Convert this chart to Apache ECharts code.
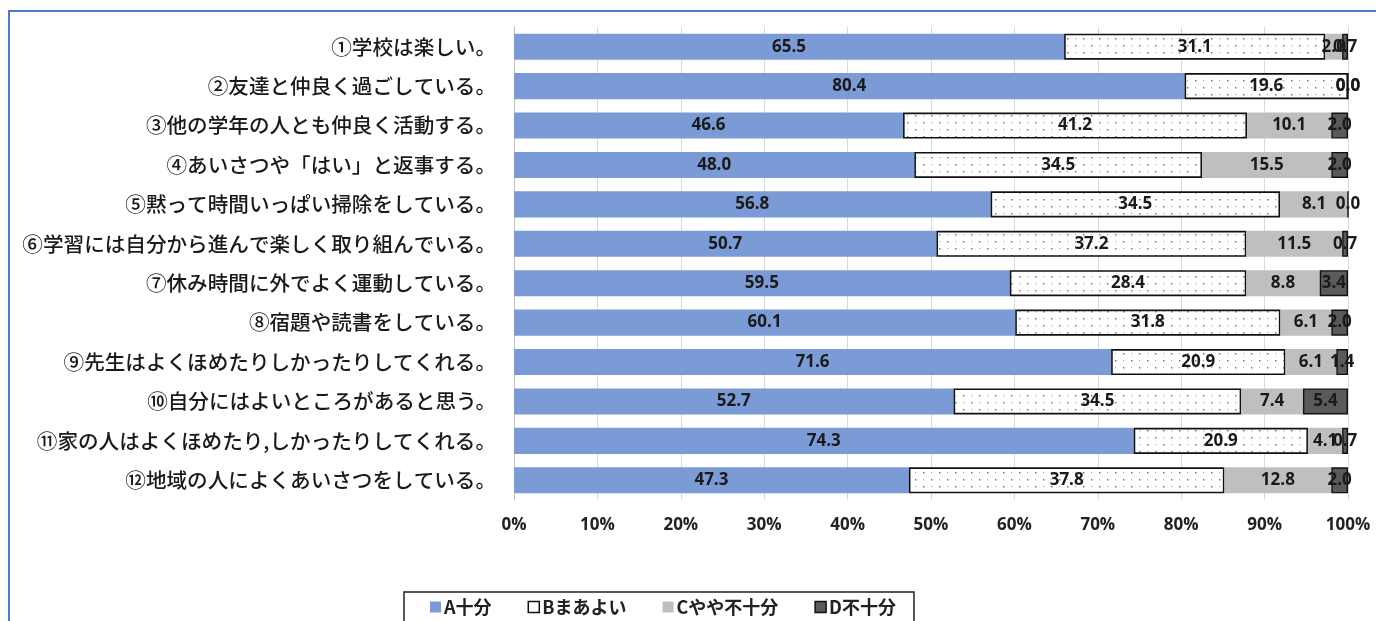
<!DOCTYPE html>
<html><head><meta charset="utf-8">
<script src="https://cdn.jsdelivr.net/npm/echarts@6/dist/echarts.min.js"></script>
<style>
html,body{margin:0;padding:0;background:#fff;overflow:hidden}
#frame{position:absolute;left:8px;top:10px;width:1400px;height:700px;border:2px solid #4a7ccf;box-sizing:border-box}
#c{position:absolute;left:0;top:0;width:1376px;height:621px}
</style></head>
<body><div id="frame"></div><div id="c"></div>
<script>
const categories = [
  '①学校は楽しい。',
  '②友達と仲良く過ごしている。',
  '③他の学年の人とも仲良く活動する。',
  '④あいさつや「はい」と返事する。',
  '⑤黙って時間いっぱい掃除をしている。',
  '⑥学習には自分から進んで楽しく取り組んでいる。',
  '⑦休み時間に外でよく運動している。',
  '⑧宿題や読書をしている。',
  '⑨先生はよくほめたりしかったりしてくれる。',
  '⑩自分にはよいところがあると思う。',
  '⑪家の人はよくほめたり,しかったりしてくれる。',
  '⑫地域の人によくあいさつをしている。'
];
const seriesNames = ['A十分', 'Bまあよい', 'Cやや不十分', 'D不十分'];
const valA = [65.5, 80.4, 46.6, 48.0, 56.8, 50.7, 59.5, 60.1, 71.6, 52.7, 74.3, 47.3];
const valB = [31.1, 19.6, 41.2, 34.5, 34.5, 37.2, 28.4, 31.8, 20.9, 34.5, 20.9, 37.8];
const valC = [2.0, 0.0, 10.1, 15.5, 8.1, 11.5, 8.8, 6.1, 6.1, 7.4, 4.1, 12.8];
const valD = [0.7, 0.0, 2.0, 2.0, 0.0, 0.7, 3.4, 2.0, 1.4, 5.4, 0.7, 2.0];
const xTicks = [0, 10, 20, 30, 40, 50, 60, 70, 80, 90, 100];

const raw = [valA, valB, valC, valD];
const sums = categories.map((_, i) => raw.reduce((s, a) => s + a[i], 0));
const norm = raw.map(a => a.map((v, i) => v / sums[i] * 100));

// dotted pattern
const pc = document.createElement('canvas');
pc.width = 16; pc.height = 14;
const pctx = pc.getContext('2d');
pctx.fillStyle = '#fff'; pctx.fillRect(0, 0, 16, 14);
pctx.fillStyle = '#777';
pctx.fillRect(3, 3, 1.5, 1.5);
pctx.fillRect(11, 10, 1.5, 1.5);
pctx.fillStyle = '#aaa';
pctx.fillRect(11, 3, 1.2, 1.2);
pctx.fillRect(3, 10, 1.2, 1.2);

const styles = [
  {color: '#7b9bd6'},
  {color: {image: pc, repeat: 'repeat'}, borderColor: '#111', borderWidth: 1.6},
  {color: '#bfbfbf'},
  {color: '#5a5a5a', borderColor: '#111', borderWidth: 1.4}
];

const chart = echarts.init(document.getElementById('c'), null, {renderer: 'canvas'});
chart.setOption({
  animation: false,
  grid: {left: 514, right: 28, top: 27, bottom: 121, containLabel: false},
  legend: {
    left: 404, top: 592,
    data: [
      {name: seriesNames[0], itemStyle: {color: '#7b9bd6'}},
      {name: seriesNames[1], itemStyle: {color: '#fff', borderColor: '#111', borderWidth: 1.5}},
      {name: seriesNames[2], itemStyle: {color: '#bfbfbf'}},
      {name: seriesNames[3], itemStyle: {color: '#5a5a5a', borderColor: '#111', borderWidth: 1.5}}
    ],
    icon: 'rect', itemWidth: 11, itemHeight: 11, itemGap: 36,
    padding: [6, 18, 10, 26],
    borderColor: '#222', borderWidth: 1.5,
    textStyle: {fontSize: 18, fontWeight: 'bold', color: '#222', fontFamily: 'Noto Sans CJK JP', padding: [0, 0, 0, -2]}
  },
  xAxis: {
    type: 'value', min: 0, max: 100, interval: 10,
    axisLabel: {formatter: '{value}%', fontSize: 17, fontWeight: 'bold', color: '#222', margin: 17, fontFamily: 'Open Sans'},
    splitLine: {show: true, lineStyle: {color: '#d9d9d9', width: 1}},
    axisLine: {show: false}, axisTick: {show: false}
  },
  yAxis: {
    type: 'category', data: categories, inverse: true,
    axisLine: {show: true, lineStyle: {color: '#bfbfbf', width: 1}},
    axisTick: {show: false},
    axisLabel: {fontSize: 20.6, fontWeight: 500, color: '#1a1a1a', margin: 18, fontFamily: 'Noto Sans CJK JP'}
  },
  series: norm.map((d, si) => ({
    name: seriesNames[si], type: 'bar', stack: 'total',
    barCategoryGap: '34%',
    itemStyle: styles[si],
    data: d,
    label: {
      show: true, position: 'inside',
      formatter: p => raw[si][p.dataIndex].toFixed(1),
      fontSize: 17, fontWeight: 'bold', color: '#1a1a1a', fontFamily: 'Open Sans',
      textBorderWidth: 0
    },
    labelLayout: {hideOverlap: false}
  }))
});
</script></body></html>
